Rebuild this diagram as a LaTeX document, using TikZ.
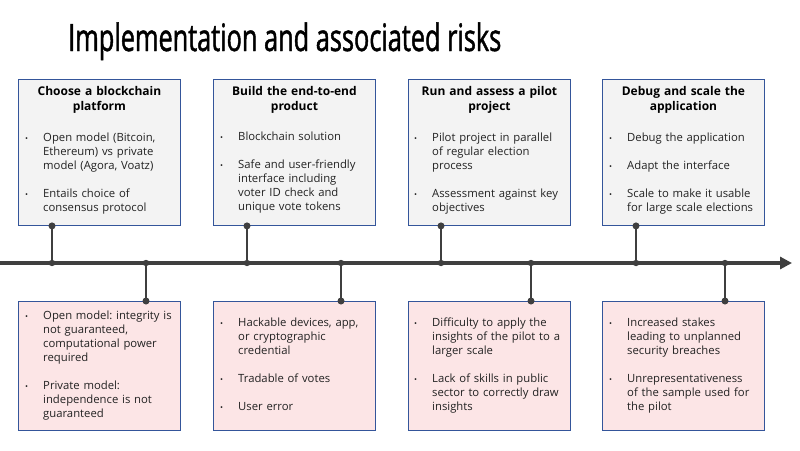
\documentclass[tikz,border=0pt]{standalone}
\usepackage{fontspec}
\setmainfont{Open Sans}
\newfontfamily\titlefont[FakeStretch=0.67,FakeBold=1.2]{Open Sans}
\usetikzlibrary{arrows.meta}
\frenchspacing
\definecolor{linegray}{HTML}{3F3F3F}
\definecolor{boxblue}{HTML}{34559A}
\definecolor{topfill}{HTML}{F3F3F3}
\definecolor{botfill}{HTML}{FCE5E6}
\definecolor{txt}{HTML}{222222}
\newenvironment{blist}{\begin{list}{\makebox[0pt]{\footnotesize\textbullet}}{%
  \setlength\leftmargin{0pt}\setlength\labelwidth{0pt}\setlength\labelsep{16.5pt}%
  \setlength\itemsep{14pt}\setlength\parsep{0pt}\setlength\topsep{0pt}%
  \setlength\partopsep{0pt}\setlength\itemindent{0pt}}}{\end{list}}
\tikzset{
  topbox/.style={draw=boxblue, line width=0.9pt, fill=topfill, anchor=north west,
    minimum width=162pt, minimum height=146pt, inner sep=0pt},
  botbox/.style={draw=boxblue, line width=0.9pt, fill=botfill, anchor=north west,
    minimum width=162pt, minimum height=129pt, inner sep=0pt},
  headtxt/.style={anchor=north, inner sep=0pt, align=center, text width=160pt,
    font=\bfseries\fontsize{12}{15}\selectfont, text=black},
  bodytxt/.style={anchor=north west, inner sep=0pt, text width=140pt, align=left,
    font=\fontsize{11.3}{14}\selectfont\frenchspacing, text=txt},
  conn/.style={draw=linegray, line width=2.6pt},
  dot/.style={fill=linegray},
  axis/.style={draw=linegray, line width=4pt, -{Triangle[length=12pt,width=12pt]}}
}
\begin{document}
\begin{tikzpicture}[x=1pt,y=-1pt]
\useasboundingbox (0,0) rectangle (800,450);
\fill[white] (0,0) rectangle (800,450);

\node[anchor=base west, inner sep=0pt, font=\titlefont\fontsize{37.8}{40}\selectfont] (title) at (68,51) {Implementation and associated risks};

% timeline
\coordinate (tl0) at (0,263);
\coordinate (tlend) at (792,263);
\draw[axis] (tl0) -- (tlend);

% top boxes
\node[topbox] (t1) at (18,79) {};
\node[topbox] (t2) at (213,79) {};
\node[topbox] (t3) at (408,79) {};
\node[topbox] (t4) at (602,79) {};

\node[headtxt] (t1h) at ([yshift=-6]t1.north) {\strut Choose a blockchain\\platform};
\node[headtxt] (t2h) at ([yshift=-6]t2.north) {\strut Build the end-to-end\\product};
\node[headtxt] (t3h) at ([yshift=-6]t3.north) {\strut Run and assess a pilot\\project};
\node[headtxt] (t4h) at ([yshift=-6]t4.north) {\strut Debug and scale the\\application};

\node[bodytxt] (t1b) at ([xshift=25,yshift=-48.5]t1.north west) {\begin{blist}
\item\strut Open model (Bitcoin,\newline Ethereum) vs private\newline model (Agora, Voatz)
\item\strut Entails choice of\newline consensus protocol
\end{blist}};
\node[bodytxt] (t2b) at ([xshift=25,yshift=-47.5]t2.north west) {\begin{blist}
\item\strut Blockchain solution
\item\strut Safe and user-friendly\newline interface including\newline voter ID check and\newline unique vote tokens
\end{blist}};
\node[bodytxt] (t3b) at ([xshift=24,yshift=-48.5]t3.north west) {\begin{blist}
\item\strut Pilot project in parallel\newline of regular election\newline process
\item\strut Assessment against key\newline objectives
\end{blist}};
\node[bodytxt] (t4b) at ([xshift=25,yshift=-48.5]t4.north west) {\begin{blist}
\item\strut Debug the application
\item\strut Adapt the interface
\item\strut Scale to make it usable\newline for large scale elections
\end{blist}};

% bottom boxes
\node[botbox] (b1) at (18,301) {};
\node[botbox] (b2) at (213,301) {};
\node[botbox] (b3) at (408,301) {};
\node[botbox] (b4) at (602,301) {};

\node[bodytxt] (b1b) at ([xshift=25,yshift=-4.5]b1.north west) {\begin{blist}
\item\strut Open model: integrity is\newline not guaranteed,\newline computational power\newline required
\item\strut Private model:\newline independence is not\newline guaranteed
\end{blist}};
\node[bodytxt] (b2b) at ([xshift=25,yshift=-11.5]b2.north west) {\begin{blist}
\item\strut Hackable devices, app,\newline or cryptographic\newline credential
\item\strut Tradable of votes
\item\strut User error
\end{blist}};
\node[bodytxt] (b3b) at ([xshift=24,yshift=-11.5]b3.north west) {\begin{blist}
\item\strut Difficulty to apply the\newline insights of the pilot to a\newline larger scale
\item\strut Lack of skills in public\newline sector to correctly draw\newline insights
\end{blist}};
\node[bodytxt] (b4b) at ([xshift=25,yshift=-11.5]b4.north west) {\begin{blist}
\item\strut Increased stakes\newline leading to unplanned\newline security breaches
\item\strut Unrepresentativeness\newline of the sample used for\newline the pilot
\end{blist}};

% connectors
\foreach \n/\x in {1/52,2/247,3/441,4/636}{
  \coordinate (ct\n) at (\x,263);
  \draw[conn] (t\n.south -| ct\n) -- (ct\n);
  \fill[dot] (t\n.south -| ct\n) circle (3.5);
  \fill[dot] (ct\n) circle (3.2);
}
\foreach \n/\x in {1/146,2/341,3/531,4/725}{
  \coordinate (cb\n) at (\x,263);
  \draw[conn] (cb\n) -- (b\n.north -| cb\n);
  \fill[dot] (b\n.north -| cb\n) circle (3.5);
  \fill[dot] (cb\n) circle (3.2);
}
\end{tikzpicture}
\end{document}
